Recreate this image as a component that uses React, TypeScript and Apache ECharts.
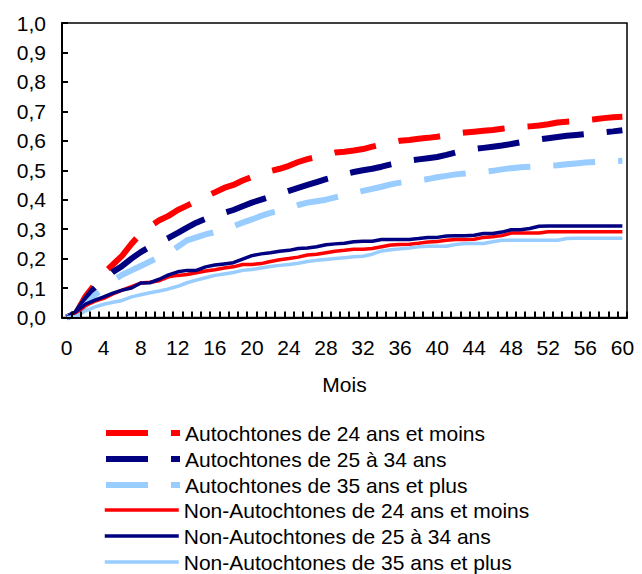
import React, { useEffect, useRef } from "react";
import * as echarts from "echarts";

const FONT = "'Liberation Sans', Arial, sans-serif";

const months: string[] = [
  "0","1","2","3","4","5","6","7","8","9","10","11","12","13","14","15","16","17","18","19","20",
  "21","22","23","24","25","26","27","28","29","30","31","32","33","34","35","36","37","38","39","40",
  "41","42","43","44","45","46","47","48","49","50","51","52","53","54","55","56","57","58","59","60",
];

const seriesNames = [
  "Autochtones de 24 ans et moins",
  "Autochtones de 25 à 34 ans",
  "Autochtones de 35 ans et plus",
  "Non-Autochtones de 24 ans et moins",
  "Non-Autochtones de 25 à 34 ans",
  "Non-Autochtones de 35 ans et plus",
];

const auto24 = [
  0, 0.014, 0.07, 0.11, 0.15, 0.18, 0.21, 0.25, 0.285, 0.31, 0.33,
  0.345, 0.365, 0.38, 0.395, 0.41, 0.425, 0.44, 0.45, 0.465, 0.477,
  0.488, 0.497, 0.505, 0.515, 0.528, 0.538, 0.545, 0.552, 0.56, 0.563,
  0.567, 0.572, 0.58, 0.587, 0.593, 0.6, 0.603, 0.607, 0.61, 0.614,
  0.619, 0.624, 0.628, 0.631, 0.634, 0.637, 0.641, 0.645, 0.647, 0.649,
  0.652, 0.656, 0.662, 0.665, 0.667, 0.67, 0.673, 0.677, 0.68, 0.682,
];

const auto25 = [
  0, 0.015, 0.06, 0.1, 0.13, 0.155, 0.175, 0.2, 0.222, 0.24, 0.255,
  0.27, 0.287, 0.305, 0.322, 0.335, 0.343, 0.355, 0.365, 0.378, 0.39,
  0.4, 0.41, 0.42, 0.43, 0.44, 0.45, 0.46, 0.47, 0.478, 0.487,
  0.494, 0.5, 0.505, 0.512, 0.52, 0.527, 0.533, 0.537, 0.541, 0.545,
  0.552, 0.56, 0.566, 0.572, 0.576, 0.58, 0.584, 0.589, 0.595, 0.6,
  0.605, 0.609, 0.613, 0.617, 0.62, 0.623, 0.626, 0.629, 0.632, 0.636,
];

const auto35 = [
  0, 0.01, 0.04, 0.075, 0.1, 0.125, 0.145, 0.16, 0.175, 0.19, 0.205,
  0.22, 0.24, 0.262, 0.272, 0.282, 0.29, 0.3, 0.31, 0.322, 0.333,
  0.345, 0.355, 0.363, 0.372, 0.382, 0.39, 0.395, 0.4, 0.408, 0.415,
  0.422, 0.43, 0.437, 0.444, 0.452, 0.458, 0.462, 0.465, 0.47, 0.476,
  0.481, 0.486, 0.489, 0.492, 0.495, 0.498, 0.503, 0.507, 0.51, 0.512,
  0.514, 0.516, 0.517, 0.52, 0.523, 0.526, 0.528, 0.53, 0.531, 0.532,
];

const nonAuto24 = [
  0, 0.01, 0.04, 0.055, 0.065, 0.08, 0.093, 0.105, 0.117, 0.12, 0.125,
  0.138, 0.143, 0.146, 0.152, 0.158, 0.162, 0.168, 0.172, 0.18, 0.18,
  0.183, 0.19, 0.196, 0.2, 0.205, 0.212, 0.215, 0.22, 0.225, 0.228,
  0.232, 0.232, 0.234, 0.24, 0.246, 0.248, 0.249, 0.252, 0.256, 0.258,
  0.262, 0.265, 0.265, 0.266, 0.272, 0.274, 0.278, 0.287, 0.287, 0.287,
  0.287, 0.291, 0.291, 0.291, 0.291, 0.291, 0.291, 0.291, 0.291, 0.291,
];

const nonAuto25 = [
  0, 0.02, 0.045, 0.058, 0.07, 0.083, 0.093, 0.1, 0.117, 0.118, 0.13,
  0.145, 0.155, 0.16, 0.16, 0.172, 0.178, 0.182, 0.186, 0.198, 0.21,
  0.216, 0.22, 0.225, 0.228, 0.234, 0.236, 0.24, 0.247, 0.25, 0.252,
  0.257, 0.259, 0.259, 0.265, 0.265, 0.265, 0.265, 0.268, 0.272, 0.272,
  0.277, 0.278, 0.278, 0.279, 0.285, 0.285, 0.29, 0.298, 0.298, 0.302,
  0.31, 0.311, 0.311, 0.311, 0.311, 0.311, 0.311, 0.311, 0.311, 0.311,
];

const nonAuto35 = [
  0, 0.003, 0.022, 0.035, 0.045, 0.052, 0.058, 0.07, 0.077, 0.084, 0.09,
  0.097, 0.106, 0.118, 0.127, 0.135, 0.143, 0.148, 0.153, 0.16, 0.163,
  0.168, 0.173, 0.177, 0.18, 0.184, 0.19, 0.194, 0.197, 0.2, 0.203,
  0.206, 0.208, 0.215, 0.226, 0.23, 0.233, 0.236, 0.24, 0.242, 0.242,
  0.242, 0.248, 0.251, 0.251, 0.251, 0.257, 0.262, 0.262, 0.262, 0.262,
  0.262, 0.262, 0.262, 0.268, 0.269, 0.269, 0.269, 0.269, 0.269, 0.269,
];

const yTicks = ["0,0","0,1","0,2","0,3","0,4","0,5","0,6","0,7","0,8","0,9","1,0"];

const colors = ["#FF0000", "#000080", "#99CCFF", "#FF0000", "#000080", "#99CCFF"];
const values = [auto24, auto25, auto35, nonAuto24, nonAuto25, nonAuto35];

export default function App() {
  const ref = useRef<HTMLDivElement>(null);
  useEffect(() => {
    if (!ref.current) return;
    const chart = echarts.init(ref.current, null, { renderer: "svg" });
    const series = values.map((data, i) => {
      const dashed = i < 3;
      return {
        name: seriesNames[i],
        type: "line",
        data,
        symbol: "none",
        showSymbol: false,
        lineStyle: {
          color: colors[i],
          width: dashed ? 6 : 3.5,
          type: dashed ? [42, 23] : "solid",
          cap: "butt",
          join: "round",
        },
        itemStyle: { color: colors[i] },
        z: 2 + i,
      };
    });
    const legendBase = {
      orient: "vertical",
      left: 103,
      padding: 0,
      itemWidth: 74,
      itemHeight: 10,
      itemGap: 5,
      itemStyle: { opacity: 0, borderWidth: 0 },
      textStyle: { fontSize: 21, fontFamily: FONT, color: "#000" },
      lineStyle: { width: "inherit", type: "inherit", cap: "butt" },
    };
    chart.setOption({
      animation: false,
      textStyle: { fontFamily: FONT },
      grid: {
        left: 62,
        top: 23,
        width: 565,
        height: 294.5,
        show: true,
        z: -5,
        borderColor: "#000",
        borderWidth: 1.5,
        backgroundColor: "rgba(255,255,255,0)",
      },
      legend: [
        { ...legendBase, top: 422.5, data: seriesNames.slice(0, 3) },
        { ...legendBase, top: 499.5, data: seriesNames.slice(3) },
      ],
      xAxis: {
        type: "category",
        data: months,
        boundaryGap: true,
        z: 20,
        name: "Mois",
        nameLocation: "middle",
        nameGap: 56,
        nameTextStyle: { fontSize: 21, fontFamily: FONT, color: "#000" },
        axisLine: { show: true, onZero: false, lineStyle: { color: "#000", width: 2 } },
        axisTick: {
          show: true,
          inside: true,
          interval: 0,
          length: 6,
          lineStyle: { color: "#000", width: 2 },
        },
        axisLabel: {
          interval: 3,
          fontSize: 21,
          fontFamily: FONT,
          color: "#000",
          margin: 19,
        },
        splitLine: { show: false },
      },
      yAxis: {
        type: "value",
        min: 0,
        max: 1,
        interval: 0.1,
        z: 20,
        axisLine: { show: true, lineStyle: { color: "#000", width: 2 } },
        axisTick: { show: true, inside: true, length: 6, lineStyle: { color: "#000", width: 2 } },
        axisLabel: {
          fontSize: 21,
          fontFamily: FONT,
          color: "#000",
          margin: 16,
          formatter: (v: number) => yTicks[Math.round(v * 10)],
        },
        splitLine: { show: false },
      },
      series,
    });
    return () => chart.dispose();
  }, []);
  return (
    <div
      ref={ref}
      style={{ position: "fixed", left: 0, top: 0, width: 642, height: 574, background: "#fff" }}
    />
  );
}
